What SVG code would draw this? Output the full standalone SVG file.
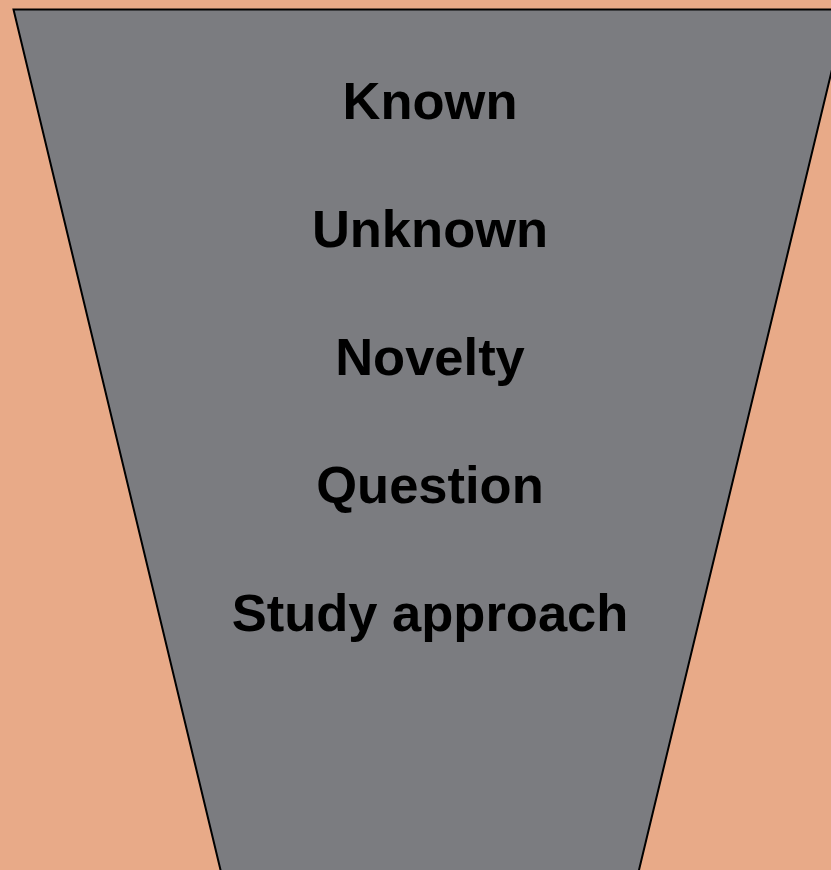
<svg xmlns="http://www.w3.org/2000/svg" width="831" height="870" viewBox="0 0 831 870">
<style>
.lbl{font-family:"Liberation Sans",Arial,sans-serif;font-weight:bold;font-size:52.5px;fill:#000;text-anchor:middle}
</style>
<rect x="0" y="0" width="831" height="870" fill="#E8AA88"/>
<g id="funnel">
<polygon points="13.5,9.5 846.5,9.5 638.5,872 221,872" fill="#7B7C80" stroke="#000" stroke-width="2"/>
</g>
<g id="known"><text class="lbl" x="430" y="119">Known</text></g>
<g id="unknown"><text class="lbl" x="430" y="247">Unknown</text></g>
<g id="novelty"><text class="lbl" x="430" y="375">Novelty</text></g>
<g id="question"><text class="lbl" x="430" y="503">Question</text></g>
<g id="study"><text class="lbl" x="430" y="631">Study approach</text></g>
<g id="connectors"></g>
</svg>
